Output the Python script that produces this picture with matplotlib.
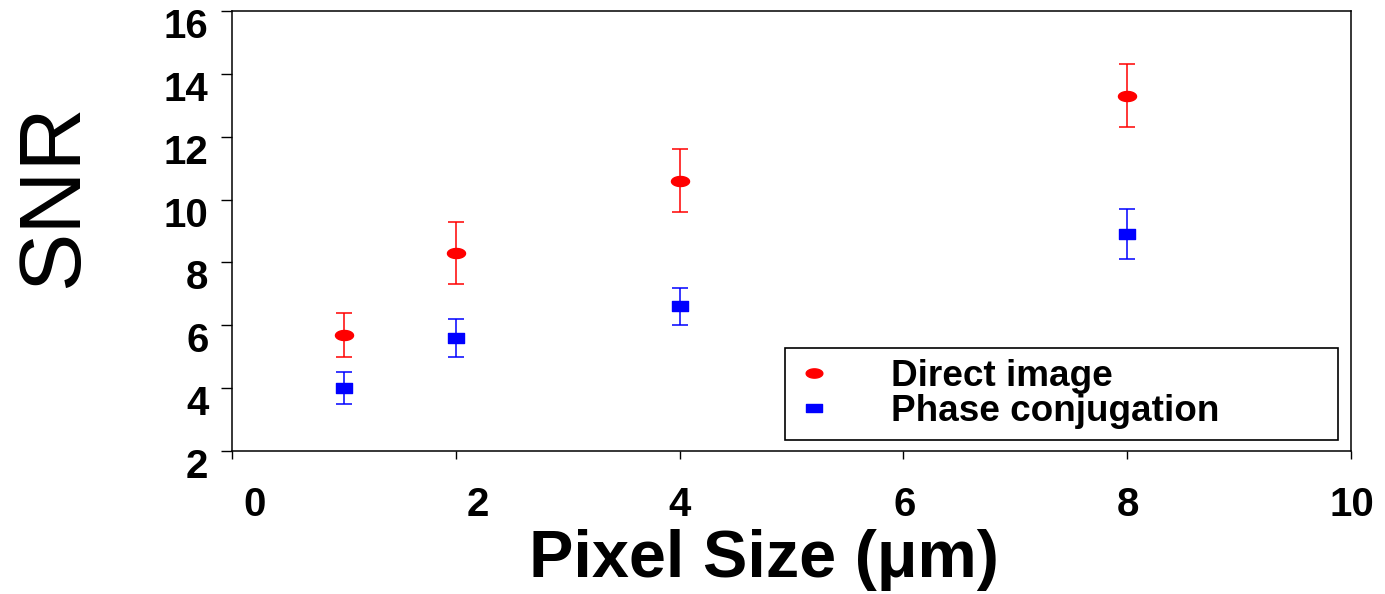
import numpy as np
import matplotlib
matplotlib.use('Agg')
import matplotlib.pyplot as plt
import matplotlib.transforms as mtransforms
from matplotlib.path import Path
from matplotlib.lines import Line2D

# data
pixel_size = [1, 2, 4, 8]
direct_snr = [5.7, 8.3, 10.6, 13.3]
direct_err = [0.7, 1.0, 1.0, 1.0]
phase_snr = [4.0, 5.6, 6.6, 8.9]
phase_err = [0.5, 0.6, 0.6, 0.8]
x_ticks = [0, 2, 4, 6, 8, 10]
y_ticks = [2, 4, 6, 8, 10, 12, 14, 16]

plt.rcParams['font.family'] = ['Liberation Sans', 'DejaVu Sans']

# ellipse and flat rectangle markers
t = np.linspace(0, 2 * np.pi, 60)
ellipse = Path(np.column_stack([1.8 * np.cos(t), np.sin(t)]), closed=True)
rect = Path([(-1.7, -1), (1.7, -1), (1.7, 1), (-1.7, 1), (-1.7, -1)], closed=True)

fig = plt.figure(figsize=(13.85, 5.94), dpi=100)
ax = fig.add_axes([0.1675, 0.2407, 0.808, 0.7408])

ax.errorbar(pixel_size, direct_snr, yerr=direct_err, fmt='none', ecolor='red',
            elinewidth=1.1, capsize=5.8, capthick=1.1)
ax.errorbar(pixel_size, phase_snr, yerr=phase_err, fmt='none', ecolor='blue',
            elinewidth=1.1, capsize=5.8, capthick=1.1)
ax.plot(pixel_size, direct_snr, ls='none', marker=ellipse, ms=13, color='red', mec='red')
ax.plot(pixel_size, phase_snr, ls='none', marker=rect, ms=11.5, color='blue', mec='blue')

ax.set_xlim(0, 10)
ax.set_ylim(2, 16)
ax.set_xticks(x_ticks)
ax.set_yticks(y_ticks)

for s in ax.spines.values():
    s.set_linewidth(1.1)
ax.tick_params(axis='y', direction='out', length=8, width=1, pad=9, labelsize=29)
ax.tick_params(axis='x', direction='out', length=6, width=1, pad=19, labelsize=29)

# the labels in the original sit a bit off their ticks
y_shift = mtransforms.ScaledTranslation(0, -0.12, fig.dpi_scale_trans)
for tk in ax.yaxis.get_major_ticks():
    tk.label1.set_fontweight('bold')
    tk.label1.set_transform(tk.label1.get_transform() + y_shift)
x_shift = [0.23, 0.22, 0, 0.01, 0.01, 0.01]
for tk, dx in zip(ax.xaxis.get_major_ticks(), x_shift):
    tk.label1.set_fontweight('bold')
    tk.label1.set_transform(tk.label1.get_transform()
                            + mtransforms.ScaledTranslation(dx, 0, fig.dpi_scale_trans))

ax.set_xlabel('Pixel Size (\u03bcm)', fontsize=48, fontweight='bold')
ax.xaxis.set_label_coords(0.475, -0.178)
ax.set_ylabel('SNR', fontsize=63)
ax.yaxis.set_label_coords(-0.122, 0.58)

handles = [
    Line2D([], [], ls='none', marker=ellipse, ms=12, color='red'),
    Line2D([], [], ls='none', marker=rect, ms=11, color='blue'),
]
leg = ax.legend(handles, ['Direct image', 'Phase conjugation'],
                loc='lower left', bbox_to_anchor=(0.494, 0.025, 0.494, 0.216),
                mode='expand', borderaxespad=0, fancybox=False, framealpha=1,
                edgecolor='black', prop={'weight': 'bold', 'size': 26.6},
                handlelength=1.0, handletextpad=1.58, labelspacing=0.0,
                borderpad=0.3)
leg.get_frame().set_linewidth(1.2)

fig.savefig('out.png', dpi=100)
